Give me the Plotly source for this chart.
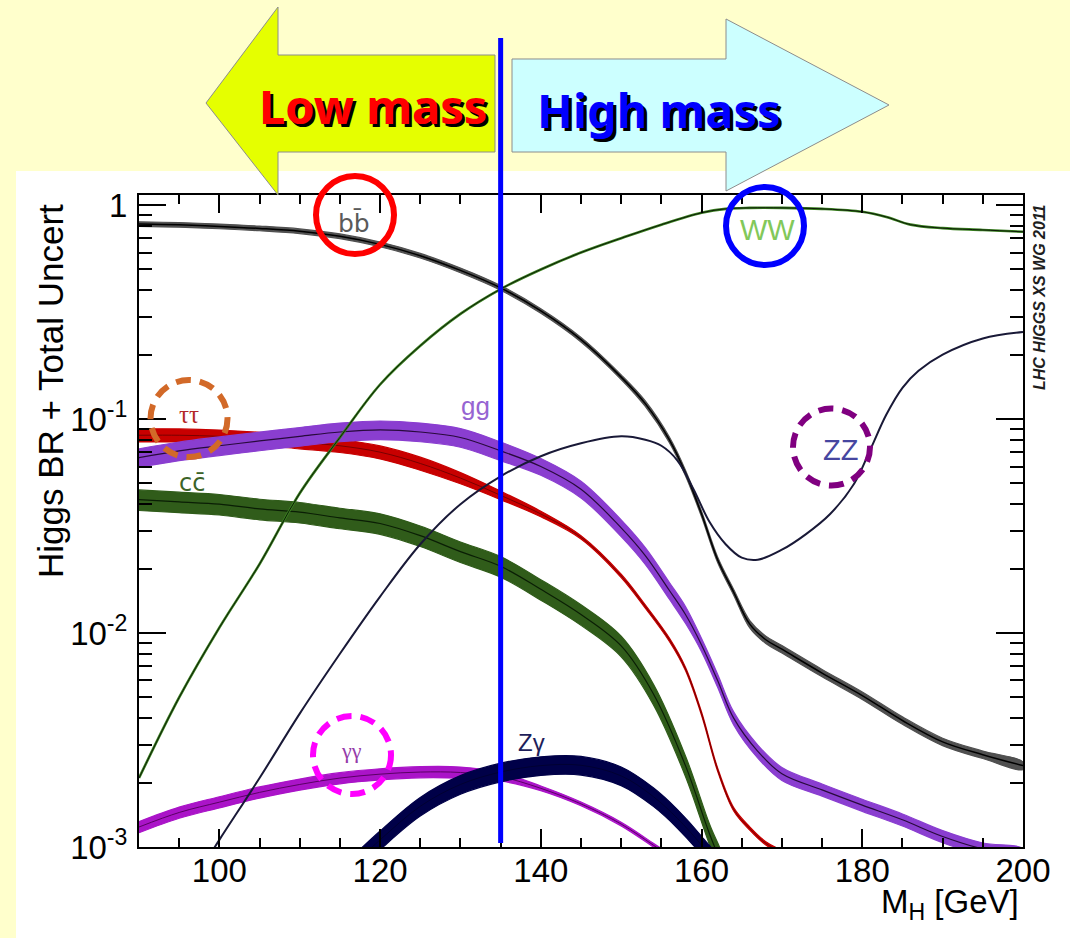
import numpy as np
import plotly.graph_objects as go

# ---------------------------------------------------------------------------
# Standard Model Higgs branching ratios (central value) and the half-width of
# the total-uncertainty band in percent, per decay channel, versus M_H [GeV]
# ---------------------------------------------------------------------------
MH_BB = [90, 95, 100, 105, 110, 115, 120, 125, 130, 135, 140, 145, 150, 153,
         156, 158, 160, 162, 164, 166, 168, 170, 175, 180, 185, 190, 195, 200]
BR_BB = [0.815, 0.808, 0.795, 0.778, 0.755, 0.715, 0.655, 0.58, 0.495, 0.41,
         0.32, 0.235, 0.157, 0.118, 0.080, 0.056, 0.036, 0.022, 0.0155, 0.011,
         0.0093, 0.0084, 0.0065, 0.0051, 0.0039, 0.0031, 0.0027, 0.0024]
UNC_BB = [2.5] * 13 + [3.0] * 6 + [4.0] * 9

MH_TT = [90, 95, 100, 105, 110, 115, 120, 125, 130, 135, 140, 145, 150, 153,
         156, 158, 160, 162, 164, 166, 168, 170, 173]
BR_TT = [0.084, 0.084, 0.083, 0.081, 0.078, 0.075, 0.070, 0.062, 0.053, 0.044,
         0.036, 0.028, 0.0185, 0.0133, 0.0093, 0.0068, 0.0042, 0.0023, 0.0015,
         0.00122, 0.00104, 0.00095, 0.00088]
UNC_TT = [7, 7, 7, 7, 7, 7, 7, 7, 6, 4.5, 3, 1.8, 1.8, 1.8, 1.8, 1.8, 1.8,
          1.8, 1.8, 1.8, 1.8, 1.8, 1.8]

MH_GG = [90, 95, 100, 105, 110, 115, 120, 125, 130, 135, 140, 145, 150, 153,
         156, 158, 160, 162, 164, 167, 170, 175, 180, 185, 190, 195, 200]
BR_GG = [0.066, 0.071, 0.075, 0.079, 0.083, 0.087, 0.089, 0.087, 0.082, 0.071,
         0.060, 0.047, 0.031, 0.023, 0.0158, 0.0122, 0.0088, 0.0060, 0.0040,
         0.0028, 0.0022, 0.00185, 0.00157, 0.00134, 0.00112, 0.00098, 0.00092]
UNC_GG = [10] * 10 + [9] * 6 + [7] * 5 + [6.5] * 6

MH_CC = [90, 95, 100, 105, 110, 115, 120, 125, 130, 135, 140, 145, 150, 154,
         158, 161, 163]
BR_CC = [0.042, 0.041, 0.040, 0.038, 0.0367, 0.0345, 0.0325, 0.0285, 0.0240,
         0.0205, 0.0160, 0.0122, 0.0087, 0.0052, 0.0024, 0.00115, 0.00075]
UNC_CC = [11] * 17

MH_AA = [90, 95, 100, 105, 110, 115, 120, 125, 130, 135, 140, 145, 150, 154, 157]
BR_AA = [0.00124, 0.00145, 0.00162, 0.0018, 0.00196, 0.0021, 0.00219, 0.00224,
         0.00223, 0.00213, 0.00188, 0.00159, 0.00128, 0.00102, 0.00085]
UNC_AA = [6, 6, 6, 6, 6, 6, 6, 6, 6, 4.5, 2.5, 2, 2, 2, 2]

MH_ZA = [117, 120, 125, 130, 135, 140, 145, 150, 154, 157, 160, 163]
BR_ZA = [0.00085, 0.00108, 0.00155, 0.00196, 0.00224, 0.0024, 0.00241,
         0.00215, 0.00172, 0.00136, 0.00102, 0.00072]
UNC_ZA = [10] * 12

MH_WW = [90, 95, 100, 105, 110, 115, 120, 125, 130, 135, 140, 145, 150, 155,
         160, 163, 166, 170, 175, 180, 183, 186, 190, 195, 200]
BR_WW = [0.0021, 0.0050, 0.0106, 0.021, 0.045, 0.082, 0.145, 0.22, 0.31, 0.405,
         0.50, 0.60, 0.70, 0.81, 0.92, 0.96, 0.97, 0.97, 0.96, 0.93, 0.88, 0.81,
         0.78, 0.765, 0.75]

MH_ZZ = [98, 100, 105, 110, 115, 120, 125, 130, 135, 140, 145, 150, 153, 155,
         157, 159, 161, 163, 165, 167, 170, 173, 176, 179, 181, 183, 185, 187,
         190, 195, 200]
BR_ZZ = [0.00082, 0.00108, 0.0021, 0.0042, 0.0080, 0.0148, 0.026, 0.040, 0.054,
         0.067, 0.077, 0.083, 0.080, 0.075, 0.064, 0.047, 0.033, 0.026, 0.0225,
         0.022, 0.0245, 0.029, 0.036, 0.050, 0.072, 0.105, 0.140, 0.168, 0.200,
         0.238, 0.255]

# axis ranges and tick labels
X_RANGE = [90, 200]
Y_RANGE_LOG = [-3, 0.047]
X_TICKS = [100, 120, 140, 160, 180, 200]
Y_TICKS = [1e-3, 1e-2, 1e-1, 1]
Y_TICK_TEXT = ["10<sup>-3</sup>", "10<sup>-2</sup>", "10<sup>-1</sup>", "1"]
SPLIT_MASS = 135  # boundary between the low- and high-mass searches

# ---------------------------------------------------------------------------
# canvas geometry (pixels) and helpers to place decorations in paper space
# ---------------------------------------------------------------------------
FIG_W, FIG_H = 1070, 938
M_L, M_R, M_T, M_B = 139, 47, 195, 91
PLOT_W = FIG_W - M_L - M_R
PLOT_H = FIG_H - M_T - M_B


def px(x):
    return (x - M_L) / PLOT_W


def py(y):
    return (FIG_H - M_B - y) / PLOT_H


fig = go.Figure()
SMOOTH = 1.0


def add_band(mh, br, unc, fill, core, core_width, name):
    mh = np.asarray(mh, float)
    br = np.asarray(br, float)
    u = np.asarray(unc, float) / 100.0
    hi, lo = br * (1 + u), br * (1 - u)
    fig.add_trace(go.Scatter(
        x=np.concatenate([mh, mh[::-1]]), y=np.concatenate([hi, lo[::-1]]),
        mode="lines", fill="toself", fillcolor=fill,
        line=dict(color=fill, width=1.2, shape="spline", smoothing=SMOOTH),
        hoverinfo="skip", showlegend=False, name=name))
    fig.add_trace(go.Scatter(
        x=mh, y=br, mode="lines",
        line=dict(color=core, width=core_width, shape="spline", smoothing=SMOOTH),
        showlegend=False, name=name))


def add_line(mh, br, color, width, name):
    fig.add_trace(go.Scatter(
        x=mh, y=br, mode="lines",
        line=dict(color=color, width=width, shape="spline", smoothing=SMOOTH),
        showlegend=False, name=name))


add_band(MH_TT, BR_TT, UNC_TT, "rgb(200,0,0)", "rgb(120,0,0)", 1.0, "ττ")
add_band(MH_GG, BR_GG, UNC_GG, "rgb(138,62,208)", "rgb(40,10,60)", 1.2, "gg")
add_band(MH_CC, BR_CC, UNC_CC, "rgb(48,92,26)", "rgb(10,30,5)", 1.2, "cc")
add_band(MH_AA, BR_AA, UNC_AA, "rgb(170,20,200)", "rgb(90,0,100)", 1.0, "γγ")
add_band(MH_ZA, BR_ZA, UNC_ZA, "rgb(0,0,72)", "rgb(0,0,50)", 1.0, "Zγ")
add_band(MH_BB, BR_BB, UNC_BB, "rgb(80,80,80)", "rgb(0,0,0)", 1.5, "bb")
add_line(MH_WW, BR_WW, "rgb(58,128,32)", 2.6, "WW")
add_line(MH_WW, BR_WW, "rgba(0,0,0,0.8)", 1.0, "WW")
add_line(MH_ZZ, BR_ZZ, "rgb(25,25,55)", 2.0, "ZZ")

# carrier trace for the mirrored top/right axes
fig.add_trace(go.Scatter(x=X_RANGE, y=[10 ** Y_RANGE_LOG[0], 10 ** Y_RANGE_LOG[1]],
                         xaxis="x2", yaxis="y2", mode="lines",
                         line=dict(width=0), opacity=0, hoverinfo="skip",
                         showlegend=False))

x_minor = [v for v in range(95, 200, 5) if v not in X_TICKS]
y_minor = [m * 10.0 ** e for e in (-3, -2, -1) for m in range(2, 10)]
tick_font = dict(family="Liberation Sans, Arial, sans-serif", size=33, color="black")

x_common = dict(range=X_RANGE, tickmode="array", tickvals=X_TICKS,
                ticks="inside", ticklen=18, tickwidth=1.5, tickcolor="black",
                minor=dict(tickmode="array", tickvals=x_minor, ticks="inside",
                           ticklen=9, tickwidth=1.5, tickcolor="black",
                           showgrid=False),
                showgrid=False, zeroline=False)
y_common = dict(type="log", range=Y_RANGE_LOG, tickmode="array",
                tickvals=Y_TICKS, ticks="inside", ticklen=27, tickwidth=1.5,
                tickcolor="black",
                minor=dict(tickmode="array", tickvals=y_minor, ticks="inside",
                           ticklen=13, tickwidth=1.5, tickcolor="black",
                           showgrid=False),
                showgrid=False, zeroline=False)

fig.update_layout(
    width=FIG_W, height=FIG_H,
    margin=dict(l=M_L, r=M_R, t=M_T, b=M_B, pad=0),
    paper_bgcolor="rgb(255,255,204)", plot_bgcolor="white",
    showlegend=False,
    xaxis=dict(**x_common, ticktext=[str(v) for v in X_TICKS],
               tickfont=tick_font, showline=True, linecolor="black",
               linewidth=2, mirror=True, ticklabelstandoff=-7),
    yaxis=dict(**y_common, ticktext=Y_TICK_TEXT, tickfont=tick_font,
               showline=True, linecolor="black", linewidth=2, mirror=True,
               ticklabelstandoff=3),
    xaxis2=dict(**x_common, overlaying="x", side="top", anchor="y",
                showticklabels=False),
    yaxis2=dict(**y_common, overlaying="y", side="right", anchor="x",
                showticklabels=False),
)

# ---------------------------------------------------------------------------
# decorations: white panel, direction arrows, split line, highlight rings
# ---------------------------------------------------------------------------
def poly(points):
    return "M " + " L ".join(f"{px(x):.5f},{py(y):.5f}" for x, y in points) + " Z"


shapes = [
    dict(type="rect", xref="paper", yref="paper", x0=px(16), x1=px(FIG_W),
         y0=py(FIG_H), y1=py(171), fillcolor="white", line=dict(width=0),
         layer="below"),
    dict(type="path", xref="paper", yref="paper",
         path=poly([(495, 55), (278, 55), (278, 7), (206, 103), (278, 195),
                    (278, 152), (495, 152)]),
         fillcolor="rgb(229,255,0)", line=dict(color="rgb(140,140,140)", width=1),
         layer="above"),
    dict(type="path", xref="paper", yref="paper",
         path=poly([(512, 59), (726, 59), (726, 19), (889, 105), (726, 191),
                    (726, 152), (512, 152)]),
         fillcolor="rgb(204,255,255)", line=dict(color="rgb(140,140,140)", width=1),
         layer="above"),
    dict(type="line", xref="x", yref="paper", x0=SPLIT_MASS, x1=SPLIT_MASS,
         y0=py(843), y1=py(38), line=dict(color="rgb(0,0,255)", width=5),
         layer="above"),
]


def ring(cx, cy, r, color, dash="solid", width=6):
    return dict(type="circle", xref="paper", yref="paper",
                x0=px(cx - r), x1=px(cx + r), y0=py(cy + r), y1=py(cy - r),
                line=dict(color=color, width=width, dash=dash),
                fillcolor="rgba(0,0,0,0)", layer="above")


shapes += [
    ring(355, 215, 39, "rgb(255,0,0)"),
    ring(765, 226, 39, "rgb(0,0,255)"),
    ring(189, 418.5, 38.5, "rgb(210,105,40)", "15px,9px"),
    ring(831.5, 447, 38.5, "rgb(128,0,128)", "15px,9px"),
    ring(352, 755, 39, "rgb(255,0,255)", "15px,9px"),
]
fig.update_layout(shapes=shapes)


def label(x, y, text, color, size, family="Liberation Sans, Arial, sans-serif", **kw):
    return dict(x=px(x), y=py(y), xref="paper", yref="paper", text=text,
                showarrow=False, xanchor=kw.pop("xanchor", "center"),
                yanchor=kw.pop("yanchor", "middle"),
                font=dict(family=family, size=size, color=color), **kw)


arrow_font = "Noto Sans, DejaVu Sans, sans-serif"
annotations = [
    label(354, 223, "bb\u0304", "rgb(90,90,90)", 25, "DejaVu Sans, sans-serif"),
    label(189, 414, "ττ", "rgb(180,40,40)", 25, "Liberation Serif, serif"),
    label(475, 406, "gg", "rgb(150,100,210)", 26),
    label(192, 483, "cc\u0304", "rgb(60,100,40)", 24, "DejaVu Sans, sans-serif"),
    label(351, 750, "γγ", "rgb(150,60,170)", 22, "Liberation Serif, serif"),
    label(531, 742, "Zγ", "rgb(30,30,90)", 24),
    label(767, 230, "WW", "rgb(130,200,90)", 29),
    label(840, 450, "ZZ", "rgb(70,70,160)", 29),
    label(50, 391, "Higgs BR + Total Uncert", "black", 35, textangle=-90),
    label(1021, 904, "M<sub>H</sub> [GeV]", "black", 33, xanchor="right"),
    label(1039, 297, "<b><i>LHC HIGGS XS WG 2011</i></b>", "rgb(30,30,30)", 16,
          textangle=-90),
]
low = label(373, 106, "Low mass", "rgb(255,0,0)", 47, arrow_font)
low["font"].update(weight="bold", shadow="3px 3px 0px black")
high = label(659, 110, "High mass", "rgb(0,0,255)", 47, arrow_font)
high["font"].update(weight="bold", shadow="3px 3px 0px black")
annotations += [low, high]
fig.update_layout(annotations=annotations)

fig.write_html("out.html")
